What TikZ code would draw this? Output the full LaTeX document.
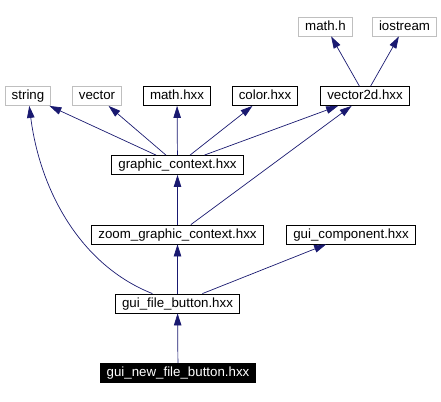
\documentclass[tikz,border=0pt]{standalone}
\usepackage{fontspec}
\setmainfont{Liberation Sans}
\usetikzlibrary{arrows.meta}

\definecolor{edgeblue}{HTML}{191970}
\definecolor{boxgrey}{HTML}{BFBFBF}

\tikzset{
  hdr/.style={draw=black, line width=0.8bp, fill=white, minimum height=19bp,
    inner xsep=6.5bp, inner ysep=0pt, text height=9.8bp, text depth=2.8bp,
    font=\fontsize{13.3bp}{16bp}\selectfont},
  syshdr/.style={hdr, draw=boxgrey},
  cur/.style={hdr, fill=black, text=white},
  incl/.style={draw=edgeblue, line width=0.7bp, -{Triangle[length=12bp,width=7.5bp]}}
}

\begin{document}
\begin{tikzpicture}[x=1bp,y=-1bp]
            \useasboundingbox (0,0) rectangle (441,401);

            \node[syshdr] (MathH) at (325.5,26.5) {math.h};
            \node[syshdr] (Iostream) at (404.5,26.5) {iostream};
            \node[syshdr] (String) at (28,96) {string};
            \node[syshdr] (Vector) at (97,96) {vector};
            \node[hdr] (MathHxx) at (177,96) {math.hxx};
            \node[hdr] (ColorHxx) at (265,96) {color.hxx};
            \node[hdr] (VectorTwoD) at (365,96) {vector2d.hxx};
            \node[hdr] (GraphicContext) at (177.5,165) {graphic\_context.hxx};
            \node[hdr] (ZoomGraphicContext) at (177.5,234.5) {zoom\_graphic\_context.hxx};
            \node[hdr] (GuiComponent) at (351,234.5) {gui\_component.hxx};
            \node[hdr] (GuiFileButton) at (177.5,303.5) {gui\_file\_button.hxx};
            \node[cur] (GuiNewFileButton) at (178,373) {gui\_new\_file\_button.hxx};

            \draw[incl] (VectorTwoD) -- (MathH);
            \draw[incl] (VectorTwoD) -- (Iostream);
            \draw[incl] (GraphicContext) -- (String);
            \draw[incl] (GraphicContext) -- (Vector);
            \draw[incl] (GraphicContext) -- (MathHxx);
            \draw[incl] (GraphicContext) -- (ColorHxx);
            \draw[incl] (GraphicContext) -- (VectorTwoD);
            \draw[incl] (ZoomGraphicContext) -- (GraphicContext);
            \draw[incl] (ZoomGraphicContext) -- (VectorTwoD);
            \draw[incl] (GuiFileButton) .. controls (80,265) and (40,190) .. (String);
            \draw[incl] (GuiFileButton) -- (ZoomGraphicContext);
            \draw[incl] (GuiFileButton) -- (GuiComponent);
            \draw[incl] (GuiNewFileButton) -- (GuiFileButton);
        \end{tikzpicture}
\end{document}
